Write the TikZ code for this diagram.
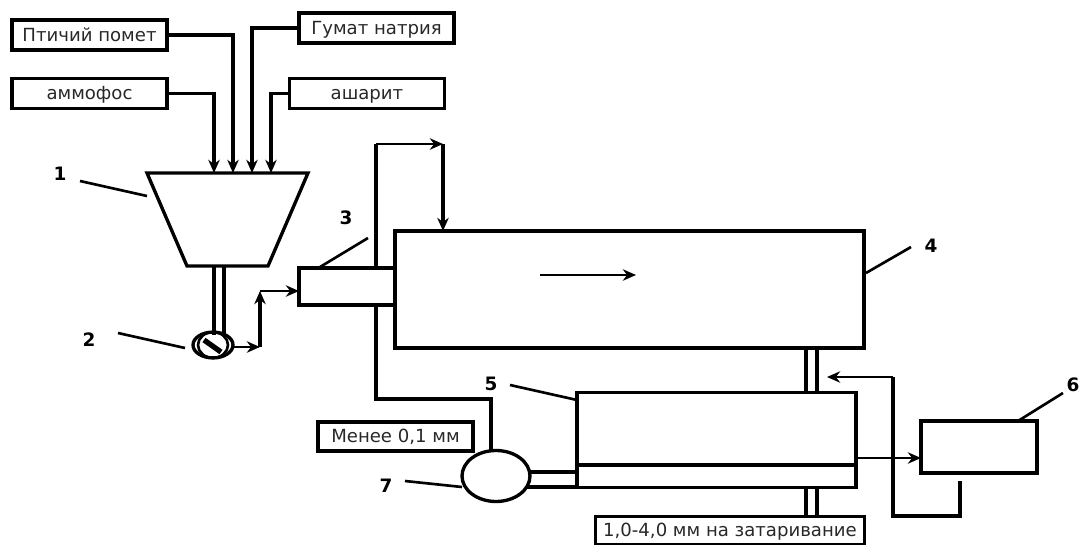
\documentclass[tikz,border=0pt]{standalone}
\usepackage{fontspec}
\setmainfont{DejaVu Sans}
\usetikzlibrary{positioning, shapes.geometric, arrows.meta}
\definecolor{inkgray}{RGB}{40,40,40}

\begin{document}
\begin{tikzpicture}[
  x=0.02cm, y=-0.02cm,
  every node/.style={font=\fontsize{10.3}{12}\selectfont, text=inkgray},
  box/.style={rectangle, draw, line width=1.9pt, inner sep=0pt, outer sep=0pt,
              align=center, text height=1.6ex, text depth=0.3ex},
  srcbox/.style={box, minimum width=3.1cm, minimum height=0.6cm},
  num/.style={font=\fontsize{10.5}{13}\selectfont\bfseries, text=black},
  pipe/.style={line width=1.8pt},
  feed/.style={line width=1.5pt, -{Stealth[length=7.5pt, width=6.5pt]}},
  inlet/.style={feed, line width=1.9pt},
  leader/.style={line width=1.5pt}
]
  \useasboundingbox (0,0) rectangle (1080,545);

  % sources
  \node[srcbox] (Pt) at (89.5,35) {Птичий помет};
  \node[srcbox] (Gum) at (376.5,28) {Гумат натрия};
  \node[srcbox] (Amm) at (89.5,93.5) {аммофос};
  \node[srcbox] (Ash) at (367,93.5) {ашарит};

  % hopper
  \draw[box] (147,173) -- (308,173) -- (268,266) -- (187,266) -- cycle;

  % equipment
  \node[box, ellipse, minimum width=0.8cm, minimum height=0.46cm] (Ring) at (213,345) {};
  \node[box, ellipse, line width=1.5pt, minimum width=0.6cm, minimum height=0.28cm] (RingIn) at (213,345) {};
  \node[box, minimum width=1.92cm, minimum height=0.74cm] (Feed) at (347,286.5) {};
  \node[box, fill=white, minimum width=9.38cm, minimum height=2.34cm] (Drum) at (629.5,289.5) {};
  \node[box, minimum width=5.58cm, minimum height=1.9cm] (Sieve) at (716.5,440) {};
  \node[box, ellipse, minimum width=1.36cm, minimum height=1.02cm] (Mill) at (496,476) {};
  \node[box, minimum width=2.32cm, minimum height=1.04cm] (Cool) at (979,447) {};
  \node[box, minimum width=3.1cm, minimum height=0.58cm] (Fine) at (395.5,436.5) {Менее 0,1 мм};
  \node[box, minimum width=5.38cm, minimum height=0.56cm] (Pack) at (730,530.5) {1,0-4,0 мм на затаривание};

  % inputs of the hopper
  \coordinate (h1) at (214,173);
  \coordinate (h2) at (233,173);
  \coordinate (h3) at (252,173);
  \coordinate (h4) at (271,173);
  \draw[inlet] (Amm.east) -| (h1);
  \draw[inlet] (Pt.east) -| (h2);
  \draw[inlet] (Gum.west) -| (h3);
  \draw[inlet] (Ash.west) -| (h4);

  % hopper to ring
  \draw[pipe] (214,266) -- (214,335);
  \draw[pipe] (224,266) -- (224,335);
  \draw[line width=3pt] (204,340) -- (221,352);

  % ring to feeder
  \coordinate (r1) at (260,347);
  \coordinate (r2) at (260,291);
  \draw[feed] (r1 -| Ring.east) -- (r1);
  \draw[inlet] (r1) -- (r2);
  \draw[feed] (r2) -- (r2 -| Feed.west);

  % recycle over the drum
  \coordinate (t1) at (376,144);
  \coordinate (t2) at (443,144);
  \coordinate (t3) at (443,231);
  \draw[pipe] (376,268) -- (t1);
  \draw[feed] (t1) -- (t2);
  \draw[inlet] (t2) -- (t3);

  % feeder to mill
  \coordinate (m1) at (376,399);
  \coordinate (m2) at (491,399);
  \coordinate (m3) at (491,451);
  \draw[pipe] (376,305) -- (m1) -- (m2) -- (m3);

  % flow mark in the drum
  \coordinate (d1) at (540,275);
  \coordinate (d2) at (636,275);
  \draw[feed] (d1) -- (d2);

  % drum to sieve, sieve to pack
  \draw[pipe] (806,348) -- (806,392);
  \draw[pipe] (817,348) -- (817,392);
  \draw[pipe] (806,487) -- (806,516);
  \draw[pipe] (817,487) -- (817,516);

  % sieve inner plate and mill
  \draw[pipe] (577,465) -- (856,465);
  \draw[pipe] (529,472) -- (577,472);
  \draw[pipe] (526,487) -- (577,487);

  % sieve to cooler and back
  \coordinate (s1) at (856,458);
  \draw[feed] (s1) -- (s1 -| Cool.west);
  \coordinate (c1) at (960,481);
  \coordinate (c2) at (960,516);
  \coordinate (c3) at (893,516);
  \coordinate (c4) at (893,377);
  \coordinate (c5) at (827,377);
  \draw[pipe] (c1) -- (c2) -- (c3) -- (c4);
  \draw[feed] (c4) -- (c5);

  % numbers
  \node[num] (n1) at (60,174) {1};
  \node[num] (n2) at (89,340) {2};
  \node[num] (n3) at (346,218) {3};
  \node[num] (n4) at (931,246) {4};
  \node[num] (n5) at (491,384) {5};
  \node[num] (n6) at (1073,385) {6};
  \node[num] (n7) at (386,486) {7};

  \draw[leader] (80,181) -- (147,196);
  \draw[leader] (118,333) -- (185,348);
  \draw[leader] (320,267) -- (368,238);
  \draw[leader] (866,273) -- (911,247);
  \draw[leader] (510,385) -- (577,400);
  \draw[leader] (1018,421) -- (1063,393);
  \draw[leader] (405,481) -- (462,487);
\end{tikzpicture}
\end{document}
